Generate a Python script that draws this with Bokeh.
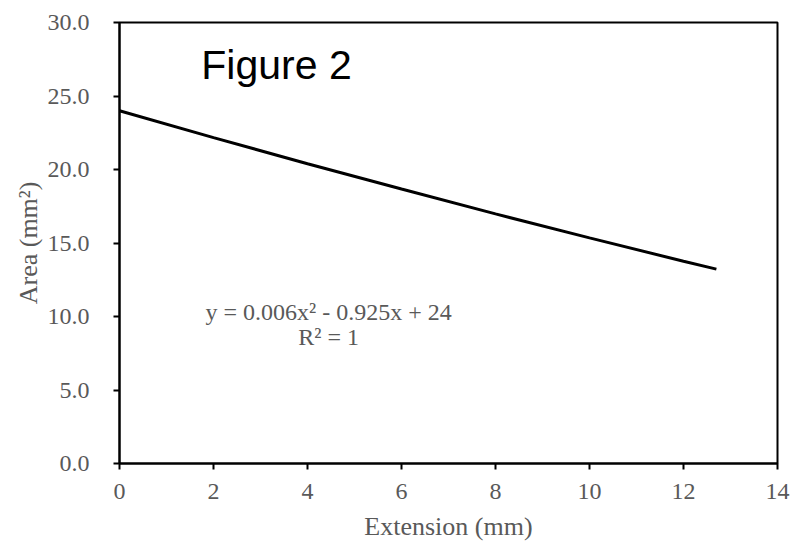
from bokeh.plotting import figure
from bokeh.models import FixedTicker, NumeralTickFormatter, Label, Range1d
from bokeh.embed import file_html
from bokeh.resources import INLINE

# Data
extension_mm = [0, 2, 4, 6, 8, 10, 12, 12.7]
area_mm2 = [24.0, 22.17, 20.39, 18.67, 16.98, 15.35, 13.76, 13.22]
x_ticks = [0, 2, 4, 6, 8, 10, 12, 14]
y_ticks = [0, 5, 10, 15, 20, 25, 30]
equation_text = "y = 0.006x\u00b2 - 0.925x + 24"
r2_text = "R\u00b2 = 1"
figure_label = "Figure 2"

GREY = "#595959"
SERIF = "Liberation Serif"

p = figure(width=790, height=548, output_backend="svg", toolbar_location=None,
           x_range=Range1d(0, 14), y_range=Range1d(0, 30),
           min_border_left=119, min_border_right=13, min_border_top=22, min_border_bottom=85)

p.line(extension_mm, area_mm2, line_color="black", line_width=3)

p.grid.visible = False
p.outline_line_color = "black"
p.outline_line_width = 2
p.outline_line_alpha = 1

for ax in (p.xaxis[0], p.yaxis[0]):
    ax.axis_line_color = "black"
    ax.axis_line_width = 2
    ax.major_tick_line_color = "black"
    ax.major_tick_line_width = 2
    ax.major_tick_out = 6
    ax.major_tick_in = 0
    ax.minor_tick_line_color = None
    ax.major_label_text_font = SERIF
    ax.major_label_text_font_size = "24px"
    ax.major_label_text_color = GREY
    ax.axis_label_text_font = SERIF
    ax.axis_label_text_font_size = "26px"
    ax.axis_label_text_color = GREY
    ax.axis_label_text_font_style = "normal"

p.xaxis.ticker = FixedTicker(ticks=x_ticks)
p.yaxis.ticker = FixedTicker(ticks=y_ticks)
p.yaxis.formatter = NumeralTickFormatter(format="0.0")
p.xaxis.axis_label = "Extension (mm)"
p.yaxis.axis_label = "Area (mm\u00b2)"
p.xaxis.major_label_standoff = 14
p.yaxis.major_label_standoff = 24
p.xaxis.axis_label_standoff = 10
p.yaxis.axis_label_standoff = 2

p.add_layout(Label(x=1.74, y=27.14, text=figure_label, text_font="Liberation Sans",
                   text_font_size="41px", text_color="black", text_baseline="alphabetic"))
p.add_layout(Label(x=4.45, y=10.32, text=equation_text, text_font=SERIF,
                   text_font_size="24px", text_color=GREY, text_align="center",
                   text_baseline="alphabetic"))
p.add_layout(Label(x=4.45, y=8.62, text=r2_text, text_font=SERIF,
                   text_font_size="24px", text_color=GREY, text_align="center",
                   text_baseline="alphabetic"))

open("out.html", "w").write(file_html(p, INLINE))
